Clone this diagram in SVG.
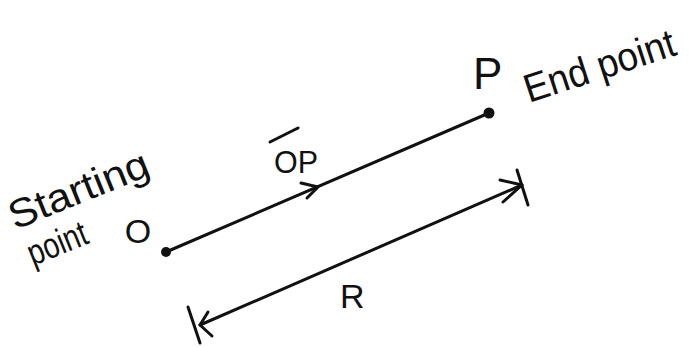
<svg xmlns="http://www.w3.org/2000/svg" width="692" height="347" viewBox="0 0 692 347">
<style>
.t{font-family:"Liberation Sans","DejaVu Sans",sans-serif;fill:#111}
.s{fill:none;stroke:#111;stroke-width:3;stroke-linecap:round;stroke-linejoin:round}
</style>
<rect width="692" height="347" fill="#fff"/>
<g id="labels">
<text class="t" font-size="40" transform="translate(15,230) rotate(-22)" textLength="148" lengthAdjust="spacingAndGlyphs">Starting</text>
<text class="t" font-size="36" transform="translate(33,266) rotate(-22)" textLength="62" lengthAdjust="spacingAndGlyphs">point</text>
<text class="t" font-size="34" x="138" y="243" text-anchor="middle">O</text>
<text class="t" font-size="44" x="473" y="89">P</text>
<text class="t" font-size="40" transform="translate(529,103) rotate(-18)" textLength="157" lengthAdjust="spacingAndGlyphs">End point</text>
<text class="t" font-size="34" x="340" y="308">R</text>
</g>
<g id="node-O">
<circle cx="166" cy="252" r="5" fill="#111"/>
</g>
<g id="node-P">
<circle cx="489" cy="113" r="5.5" fill="#111"/>
</g>
<g id="label-OP">
<text class="t" font-size="31" x="274" y="173" textLength="44" lengthAdjust="spacingAndGlyphs">OP</text>
<path class="s" d="M270 142 L298 128" stroke-width="2.5"/>
</g>
<g id="connectors">
<path class="s" d="M166 252 L489 113"/>
<path class="s" d="M301 183 L318 187 L307 198"/>
<path class="s" d="M200 325 L522 185"/>
<path class="s" d="M500 180 L522 185 L503 202"/>
<path class="s" d="M517 170 L528 205"/>
<path class="s" d="M208 312 L200 325 L212 336"/>
<path class="s" d="M188 307 L200 343"/>
</g>
</svg>
